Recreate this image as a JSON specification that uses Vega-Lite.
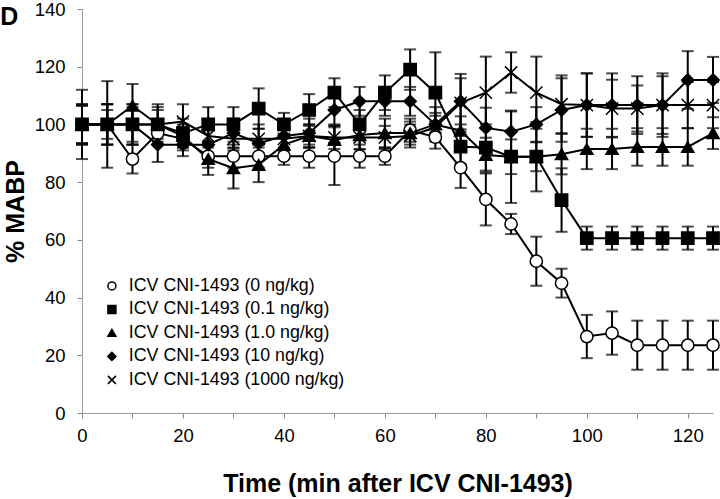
{
  "$schema": "https://vega.github.io/schema/vega-lite/v6.json",
  "autosize": "none",
  "width": 631,
  "height": 404,
  "padding": {"left": 82, "top": 9, "right": 7, "bottom": 86},
  "background": "white",
  "config": {
    "view": {"stroke": null},
    "font": "Liberation Sans",
    "axis": {"domainColor": "#999999", "tickColor": "#888888", "grid": false, "labelColor": "black", "titleColor": "black", "labelFont": "Liberation Sans", "titleFont": "Liberation Sans"}
  },
  "title": {"text": "D", "anchor": "start", "frame": "bounds", "dx": -3, "dy": 30, "offset": 0, "baseline": "top", "fontSize": 25, "fontWeight": "bold", "color": "black", "font": "Liberation Sans"},
  "data": {"values": [
    {"t":0,"d":"0","v":100,"e":12},{"t":5,"d":"0","v":100,"e":15},{"t":10,"d":"0","v":88,"e":5},{"t":15,"d":"0","v":97,"e":4},{"t":20,"d":"0","v":95,"e":4},{"t":25,"d":"0","v":89,"e":4},{"t":30,"d":"0","v":89,"e":4},{"t":35,"d":"0","v":89,"e":4},{"t":40,"d":"0","v":89,"e":3},{"t":45,"d":"0","v":89,"e":4},{"t":50,"d":"0","v":89,"e":10},{"t":55,"d":"0","v":89,"e":4},{"t":60,"d":"0","v":89,"e":3},{"t":65,"d":"0","v":98,"e":4},{"t":70,"d":"0","v":95.6,"e":4},{"t":75,"d":"0","v":85,"e":7},{"t":80,"d":"0","v":74,"e":9},{"t":85,"d":"0","v":65.5,"e":3.5},{"t":90,"d":"0","v":52.6,"e":8.5},{"t":95,"d":"0","v":45,"e":5},{"t":100,"d":"0","v":26.5,"e":7.5},{"t":105,"d":"0","v":27.7,"e":7.5},{"t":110,"d":"0","v":23.5,"e":8.5},{"t":115,"d":"0","v":23.5,"e":8.5},{"t":120,"d":"0","v":23.5,"e":8.5},{"t":125,"d":"0","v":23.5,"e":8.5},
    {"t":0,"d":"0.1","v":100,"e":7},{"t":5,"d":"0.1","v":100,"e":7},{"t":10,"d":"0.1","v":100,"e":7},{"t":15,"d":"0.1","v":100,"e":7},{"t":20,"d":"0.1","v":97,"e":5},{"t":25,"d":"0.1","v":100,"e":6},{"t":30,"d":"0.1","v":100,"e":6},{"t":35,"d":"0.1","v":105.5,"e":7},{"t":40,"d":"0.1","v":100,"e":4},{"t":45,"d":"0.1","v":105,"e":5.5},{"t":50,"d":"0.1","v":111,"e":5},{"t":55,"d":"0.1","v":100,"e":5},{"t":60,"d":"0.1","v":111,"e":6},{"t":65,"d":"0.1","v":119,"e":7},{"t":70,"d":"0.1","v":111,"e":14},{"t":75,"d":"0.1","v":92.3,"e":6},{"t":80,"d":"0.1","v":92,"e":8},{"t":85,"d":"0.1","v":88.8,"e":16},{"t":90,"d":"0.1","v":88.8,"e":12},{"t":95,"d":"0.1","v":73.8,"e":11},{"t":100,"d":"0.1","v":60.6,"e":4},{"t":105,"d":"0.1","v":60.6,"e":4},{"t":110,"d":"0.1","v":60.6,"e":4},{"t":115,"d":"0.1","v":60.6,"e":4},{"t":120,"d":"0.1","v":60.6,"e":4},{"t":125,"d":"0.1","v":60.6,"e":4},
    {"t":0,"d":"1.0","v":100,"e":7},{"t":5,"d":"1.0","v":100,"e":7},{"t":10,"d":"1.0","v":106.5,"e":7.5},{"t":15,"d":"1.0","v":100,"e":6},{"t":20,"d":"1.0","v":96,"e":4},{"t":25,"d":"1.0","v":88,"e":5.5},{"t":30,"d":"1.0","v":84.8,"e":7},{"t":35,"d":"1.0","v":86,"e":6},{"t":40,"d":"1.0","v":93,"e":5},{"t":45,"d":"1.0","v":96,"e":4},{"t":50,"d":"1.0","v":94.6,"e":5},{"t":55,"d":"1.0","v":96.3,"e":5},{"t":60,"d":"1.0","v":97,"e":5},{"t":65,"d":"1.0","v":97,"e":4},{"t":70,"d":"1.0","v":100,"e":4},{"t":75,"d":"1.0","v":97.8,"e":5},{"t":80,"d":"1.0","v":89.4,"e":6},{"t":85,"d":"1.0","v":88.8,"e":6},{"t":90,"d":"1.0","v":88.8,"e":5},{"t":95,"d":"1.0","v":89.7,"e":7},{"t":100,"d":"1.0","v":91.5,"e":7},{"t":105,"d":"1.0","v":91.5,"e":7},{"t":110,"d":"1.0","v":92.2,"e":6.5},{"t":115,"d":"1.0","v":92.2,"e":6.5},{"t":120,"d":"1.0","v":92.2,"e":6.5},{"t":125,"d":"1.0","v":97,"e":5.5},
    {"t":0,"d":"10","v":100,"e":6.5},{"t":5,"d":"10","v":100,"e":7},{"t":10,"d":"10","v":100,"e":7},{"t":15,"d":"10","v":93,"e":6},{"t":20,"d":"10","v":93,"e":4},{"t":25,"d":"10","v":93,"e":5},{"t":30,"d":"10","v":97,"e":5},{"t":35,"d":"10","v":93.5,"e":5},{"t":40,"d":"10","v":96,"e":5},{"t":45,"d":"10","v":97,"e":5},{"t":50,"d":"10","v":105,"e":5},{"t":55,"d":"10","v":108,"e":5},{"t":60,"d":"10","v":108,"e":5},{"t":65,"d":"10","v":108,"e":5},{"t":70,"d":"10","v":100,"e":6},{"t":75,"d":"10","v":108,"e":8},{"t":80,"d":"10","v":98.8,"e":7},{"t":85,"d":"10","v":97.5,"e":7},{"t":90,"d":"10","v":100,"e":6},{"t":95,"d":"10","v":105,"e":11},{"t":100,"d":"10","v":106.7,"e":11},{"t":105,"d":"10","v":106.7,"e":11},{"t":110,"d":"10","v":106.7,"e":10},{"t":115,"d":"10","v":106.7,"e":11},{"t":120,"d":"10","v":115.4,"e":10},{"t":125,"d":"10","v":115.4,"e":8},
    {"t":0,"d":"1000","v":100,"e":6.5},{"t":5,"d":"1000","v":100,"e":5},{"t":10,"d":"1000","v":100,"e":6},{"t":15,"d":"1000","v":100,"e":5},{"t":20,"d":"1000","v":101,"e":6},{"t":25,"d":"1000","v":96,"e":4},{"t":30,"d":"1000","v":95,"e":4},{"t":35,"d":"1000","v":95,"e":5},{"t":40,"d":"1000","v":95,"e":4},{"t":45,"d":"1000","v":96,"e":4},{"t":50,"d":"1000","v":95.5,"e":4},{"t":55,"d":"1000","v":95.5,"e":4},{"t":60,"d":"1000","v":95.5,"e":4},{"t":65,"d":"1000","v":96,"e":4},{"t":70,"d":"1000","v":99,"e":4},{"t":75,"d":"1000","v":107.5,"e":10},{"t":80,"d":"1000","v":111,"e":12.5},{"t":85,"d":"1000","v":118,"e":7},{"t":90,"d":"1000","v":111,"e":12.5},{"t":95,"d":"1000","v":107,"e":10},{"t":100,"d":"1000","v":106.7,"e":11},{"t":105,"d":"1000","v":105.5,"e":10},{"t":110,"d":"1000","v":105.5,"e":8},{"t":115,"d":"1000","v":106.7,"e":10},{"t":120,"d":"1000","v":106.7,"e":8},{"t":125,"d":"1000","v":106.7,"e":8}
  ]},
  "encoding": {
    "x": {"field": "t", "type": "quantitative", "scale": {"domain": [0, 125], "nice": false, "zero": false},
      "axis": {"values": [0,10,20,30,40,50,60,70,80,90,100,110,120], "labelExpr": "datum.value % 20 == 0 ? datum.label : ''", "title": "Time (min after ICV CNI-1493)", "titleFontSize": 25, "titleFontWeight": "bold", "titlePadding": 27, "labelFontSize": 18.5, "labelPadding": 8, "tickSize": 5, "labelFlush": false, "labelOverlap": false}},
    "y": {"field": "v", "type": "quantitative", "scale": {"domain": [0, 140], "nice": false},
      "axis": {"values": [0,20,40,60,80,100,120,140], "title": "% MABP", "titleFontSize": 25, "titleFontWeight": "bold", "titlePadding": 6, "labelFontSize": 18.5, "labelPadding": 12, "tickSize": 5}}
  },
  "layer": [
    {
      "mark": {"type": "errorbar", "ticks": {"size": 12, "thickness": 2, "color": "black"}, "rule": {"strokeWidth": 2, "color": "black"}, "color": "black"},
      "encoding": {"yError": {"field": "e"}, "detail": {"field": "d", "type": "nominal"}}
    },
    {
      "mark": {"type": "line", "color": "black", "strokeWidth": 2},
      "encoding": {"detail": {"field": "d", "type": "nominal"}}
    },
    {
      "mark": {"type": "point", "filled": true, "stroke": "black", "strokeWidth": 1.5, "size": 150, "opacity": 1},
      "encoding": {
        "shape": {"field": "d", "type": "nominal", "scale": {"domain": ["0","0.1","1.0","10","1000"], "range": ["circle","square","triangle-up","diamond","M-1,-1L1,1M-1,1L1,-1"]},
          "legend": {"title": null, "orient": "none", "legendX": 21, "legendY": 268, "labelExpr": "'ICV CNI-1493 (' + datum.label + ' ng/kg)'", "labelFontSize": 17.8, "labelFont": "Liberation Sans", "labelColor": "black", "symbolSize": 64, "rowPadding": 4.5, "labelOffset": 8, "padding": 0, "labelLimit": 400,
            "encode": {"symbols": {"update": {"stroke": {"value": "black"}, "strokeWidth": {"value": 1.5}, "opacity": {"value": 1}}}}}},
        "fill": {"field": "d", "type": "nominal", "scale": {"domain": ["0","0.1","1.0","10","1000"], "range": ["white","black","black","black","black"]},
          "legend": {"title": null, "orient": "none", "legendX": 21, "legendY": 268, "labelExpr": "'ICV CNI-1493 (' + datum.label + ' ng/kg)'", "labelFontSize": 17.8, "labelFont": "Liberation Sans", "labelColor": "black", "symbolSize": 64, "rowPadding": 4.5, "labelOffset": 8, "padding": 0, "labelLimit": 400,
            "encode": {"symbols": {"update": {"stroke": {"value": "black"}, "strokeWidth": {"value": 1.5}, "opacity": {"value": 1}}}}}}
      }
    }
  ]
}
